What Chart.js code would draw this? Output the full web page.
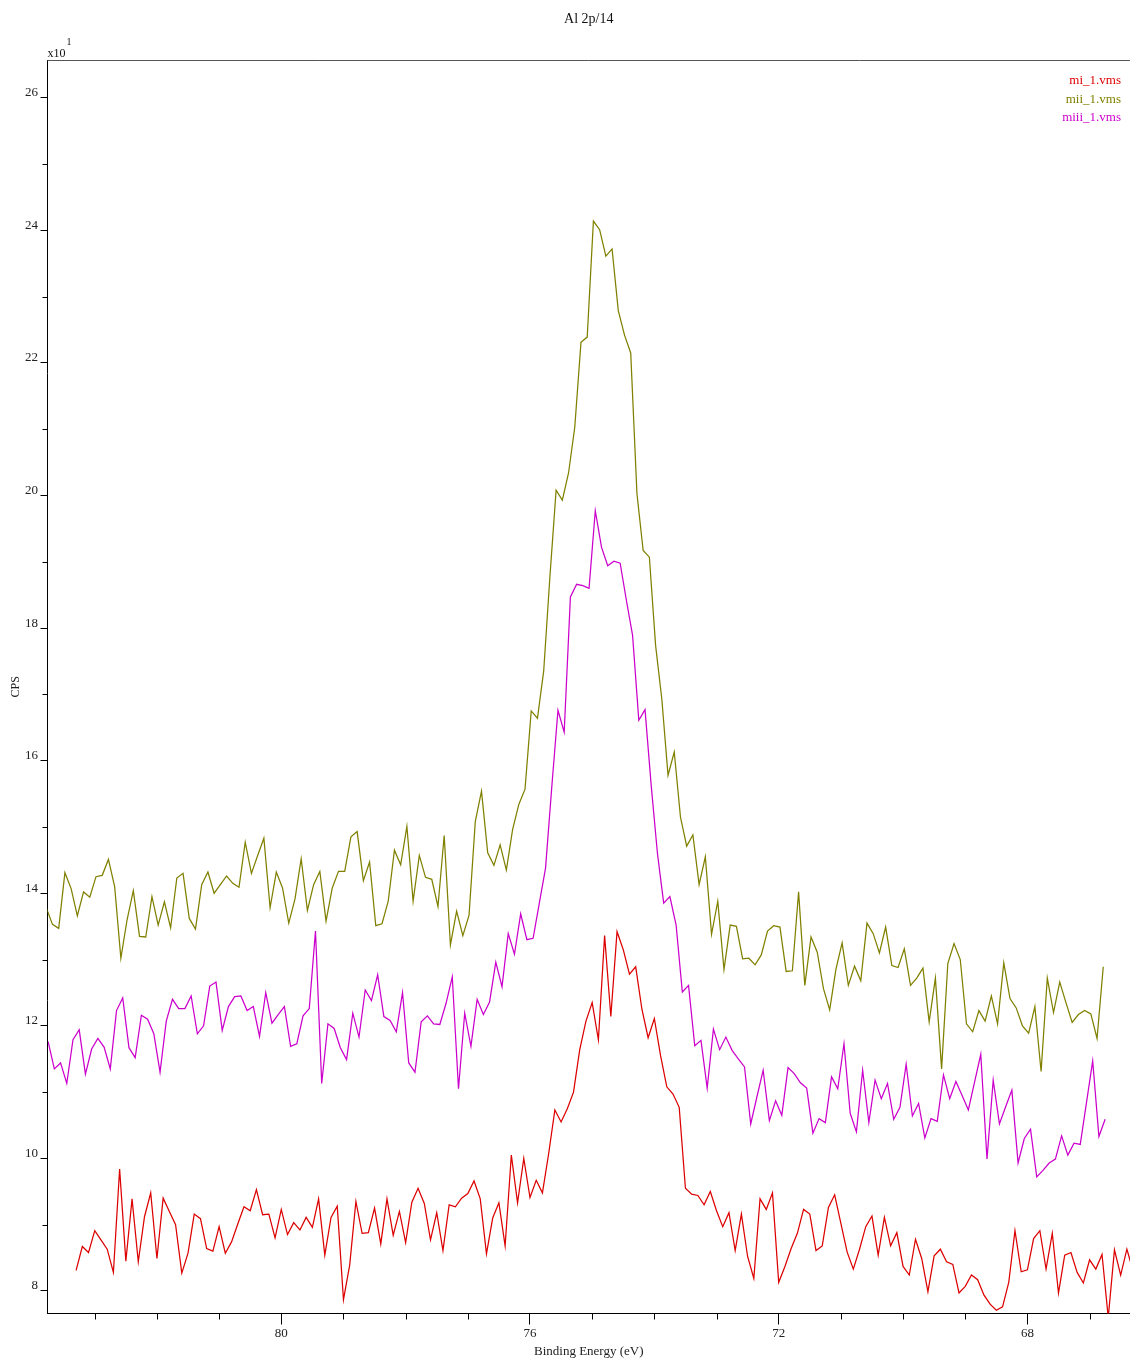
<!DOCTYPE html>
<html>
<head>
<meta charset="utf-8">
<script src="https://cdn.jsdelivr.net/npm/chart.js@4.4.1/dist/chart.umd.min.js"></script>
<style>
  html, body { margin: 0; padding: 0; background: #ffffff; }
  #wrap { width: 1130px; height: 1364px; }
</style>
</head>
<body>
<div id="wrap"><canvas id="c" width="1130" height="1364"></canvas></div>
<script>
// Al 2p region, three spectra (counts shown in units of x10^1 CPS)
const chartTitle = 'Al 2p/14';
const xAxisTitle = 'Binding Energy (eV)';
const yAxisTitle = 'CPS';
const yExponent = ['x10', '1'];

const seriesNames = ['mi_1.vms', 'mii_1.vms', 'miii_1.vms'];
const seriesColors = ['#dd0000', '#808000', '#cc00cc'];

const xTicks = [80, 76, 72, 68];
const xMinorTicks = [67, 69, 70, 71, 73, 74, 75, 77, 78, 79, 81, 82, 83];
const yTicks = [8, 10, 12, 14, 16, 18, 20, 22, 24, 26];
const yMinorTicks = [9, 11, 13, 15, 17, 19, 21, 23, 25];

// energy grid of each acquisition (eV): first point and step
const energyStep = 0.1;
const miStart = 83.30;
const miiStart = 83.78;
const miiiStart = 83.75;

const miCps = [
  8.31, 8.67, 8.58, 8.91, 8.77, 8.63, 8.28, 9.84, 8.45, 9.39, 8.44, 9.12, 9.48, 8.49,
  9.40, 9.20, 9.00, 8.27, 8.57, 9.16, 9.09, 8.64, 8.60, 8.97, 8.57, 8.74, 9.01, 9.27, 9.21, 9.53, 9.15, 9.16,
  8.80, 9.23, 8.85, 9.03, 8.92, 9.11, 8.96, 9.39, 8.54, 9.11, 9.28, 7.87, 8.39, 9.35, 8.87, 8.88, 9.25,
  8.71, 9.39, 8.84, 9.20, 8.73, 9.34, 9.55, 9.32, 8.77, 9.18, 8.61, 9.30, 9.27, 9.40, 9.47, 9.66, 9.39, 8.56,
  9.10, 9.33, 8.68, 10.05, 9.33, 10.00, 9.41, 9.67, 9.48, 10.07, 10.73, 10.55,
  10.75, 11.00, 11.64, 12.07, 12.35, 11.79, 13.36, 12.14, 13.42, 13.15, 12.78, 12.89, 12.25, 11.82, 12.11,
  11.55, 11.08, 10.97, 10.77, 9.55, 9.46, 9.44, 9.30, 9.50, 9.21, 8.97, 9.18, 8.61,
  9.16, 8.52, 8.19, 9.39, 9.23, 9.48, 8.13, 8.37, 8.64, 8.87, 9.23, 9.16, 8.61, 8.68, 9.26, 9.45, 9.02, 8.59,
  8.33, 8.63, 8.97, 9.13, 8.54, 9.11, 8.68, 8.88, 8.37, 8.24, 8.78, 8.49, 7.99, 8.53, 8.63, 8.44, 8.40, 7.97,
  8.07, 8.24, 8.17, 7.94, 7.80, 7.71, 7.76, 8.13, 8.91, 8.29, 8.32, 8.79, 8.91, 8.33, 8.87, 7.97, 8.54, 8.58,
  8.28, 8.12, 8.47, 8.33, 8.55, 7.60, 8.62, 8.24, 8.63, 8.30
];

const miiCps = [
  13.78,
  13.53, 13.47, 14.31, 14.07, 13.66, 14.02, 13.94, 14.25, 14.27, 14.51, 14.10, 13.02, 13.60, 14.04, 13.35, 13.34, 13.95, 13.52,
  13.87, 13.48, 14.23, 14.30, 13.62, 13.46, 14.13, 14.32, 14.00, 14.13, 14.26, 14.15, 14.09, 14.77, 14.30, 14.57, 14.83,
  13.78, 14.32, 14.08, 13.55, 13.91, 14.52, 13.74, 14.13, 14.33, 13.58, 14.08, 14.33, 14.33, 14.85, 14.93, 14.19, 14.47, 13.51,
  13.54, 13.88, 14.65, 14.43, 15.01, 13.88, 14.57, 14.24, 14.21, 13.80, 14.87, 13.22, 13.73, 13.36, 13.67, 15.08, 15.54, 14.61,
  14.42, 14.73, 14.35, 14.96, 15.34, 15.57, 16.75, 16.64, 17.35, 18.77, 20.08, 19.93,
  20.34, 21.03, 22.31, 22.39, 24.14, 24.01, 23.61, 23.72, 22.79, 22.42, 22.15, 20.03, 19.17, 19.07, 17.74,
  16.93, 15.78, 16.13, 15.15, 14.71, 14.88, 14.13, 14.55, 13.38, 13.88, 12.85, 13.52, 13.50,
  13.01, 13.02, 12.92, 13.07, 13.43, 13.51, 13.49, 12.82, 12.83, 14.02, 12.61, 13.34, 13.11, 12.56, 12.24, 12.85, 13.25, 12.61,
  12.90, 12.68, 13.55, 13.39, 13.10, 13.49, 12.91, 12.88, 13.16, 12.61, 12.72, 12.87, 12.06, 12.72, 11.35, 12.94, 13.24,
  13.00, 12.03, 11.91, 12.23, 12.07, 12.45, 12.03, 12.95, 12.41, 12.27, 12.00, 11.89, 12.29, 11.31, 12.72, 12.20,
  12.66, 12.35, 12.05, 12.17, 12.23, 12.18, 11.81, 12.89
];

const miiiCps = [
  11.76, 11.35, 11.44, 11.13, 11.79, 11.94, 11.27, 11.65, 11.81, 11.68, 11.35, 12.23, 12.42, 11.67, 11.52, 12.16, 12.10, 11.88,
  11.30, 12.07, 12.40, 12.26, 12.26, 12.45, 11.88, 12.00, 12.60, 12.66, 11.93, 12.29, 12.44, 12.45, 12.23, 12.29, 11.84, 12.50,
  12.04, 12.17, 12.29, 11.69, 11.73, 12.15, 12.26, 13.43, 11.13, 12.03, 11.96, 11.67, 11.49, 12.19, 11.83, 12.54, 12.38, 12.77,
  12.14, 12.08, 11.91, 12.50, 11.44, 11.30, 12.06, 12.15, 12.03, 12.02, 12.34, 12.74, 11.05, 12.19, 11.69, 12.40, 12.17,
  12.36, 12.96, 12.59, 13.39, 13.08, 13.69, 13.30, 13.32, 13.85, 14.38, 15.60, 16.76, 16.43,
  18.47, 18.66, 18.64, 18.60, 19.77, 19.22, 18.94, 19.01, 18.98, 18.42, 17.89, 16.61, 16.77, 15.62, 14.60,
  13.85, 13.95, 13.52, 12.51, 12.61, 11.70, 11.78, 11.06, 11.95, 11.64, 11.83, 11.63, 11.50,
  11.38, 10.52, 10.93, 11.33, 10.57, 10.87, 10.65, 11.37, 11.28, 11.14, 11.06, 10.38, 10.60, 10.54, 11.23, 11.05, 11.73,
  10.68, 10.40, 11.33, 10.54, 11.18, 10.90, 11.13, 10.59, 10.77, 11.42, 10.64, 10.83, 10.31, 10.60, 10.56, 11.26, 10.90, 11.16,
  10.95, 10.73, 11.15, 11.57, 9.99, 11.18, 10.52, 10.78, 11.03, 9.93, 10.30, 10.44, 9.72, 9.82, 9.93, 9.99,
  10.34, 10.05, 10.23, 10.21, 10.84, 11.47, 10.33, 10.59
];

// visible window of the plot
const xRange = [66.35, 83.76];
const yRange = [7.66, 26.57];

const serif = '"Liberation Serif", "DejaVu Serif", serif';

function toPoints(start, values) {
  return values.map((v, i) => ({ x: Math.round((start - i * energyStep) * 1000) / 1000, y: v }));
}

function lineSet(i, start, values) {
  return {
    label: seriesNames[i],
    data: toPoints(start, values),
    borderColor: seriesColors[i],
    borderWidth: 1.25,
    pointRadius: 0,
    pointHoverRadius: 0,
    tension: 0,
    fill: false
  };
}

// frame, minor ticks, title, exponent and the text legend
const decorations = {
  id: 'decorations',
  afterDraw(chart) {
    const { ctx, chartArea: a, scales: { x, y } } = chart;
    ctx.save();
    ctx.lineWidth = 1;
    ctx.strokeStyle = '#555555';
    ctx.beginPath();
    ctx.moveTo(a.left, a.top + 0.5);
    ctx.lineTo(a.right, a.top + 0.5);
    ctx.stroke();

    ctx.strokeStyle = '#000000';
    ctx.beginPath();
    xMinorTicks.forEach(v => {
      const px = Math.round(x.getPixelForValue(v)) + 0.5;
      ctx.moveTo(px, a.bottom);
      ctx.lineTo(px, a.bottom + 6);
    });
    yMinorTicks.forEach(v => {
      const py = Math.round(y.getPixelForValue(v)) + 0.5;
      ctx.moveTo(a.left, py);
      ctx.lineTo(a.left - 5, py);
    });
    ctx.stroke();

    ctx.fillStyle = '#111111';
    ctx.textBaseline = 'alphabetic';
    ctx.textAlign = 'center';
    ctx.font = '14px ' + serif;
    ctx.fillText(chartTitle, (a.left + a.right) / 2, 23);

    ctx.textAlign = 'left';
    ctx.font = '12px ' + serif;
    ctx.fillText(yExponent[0], a.left, 57);
    ctx.font = '10px ' + serif;
    ctx.fillText(yExponent[1], a.left + 19, 45);

    ctx.textAlign = 'right';
    ctx.font = '13px ' + serif;
    seriesNames.forEach((name, i) => {
      ctx.fillStyle = seriesColors[i];
      ctx.fillText(name, 1121, 84 + i * 18.5);
    });
    ctx.restore();
  }
};

new Chart(document.getElementById('c').getContext('2d'), {
  type: 'line',
  data: {
    datasets: [
      lineSet(0, miStart, miCps),
      lineSet(1, miiStart, miiCps),
      lineSet(2, miiiStart, miiiCps)
    ]
  },
  options: {
    responsive: false,
    animation: false,
    devicePixelRatio: 1,
    events: [],
    layout: { padding: { top: 60, right: 0, bottom: 0, left: 0 } },
    plugins: {
      legend: { display: false },
      title: { display: false },
      tooltip: { enabled: false }
    },
    scales: {
      x: {
        type: 'linear',
        reverse: true,
        min: xRange[0],
        max: xRange[1],
        afterBuildTicks: s => { s.ticks = xTicks.map(v => ({ value: v })); },
        afterFit: s => { s.height = 50.5; s.paddingLeft = 0; s.paddingRight = 0; },
        grid: { drawOnChartArea: false, drawTicks: true, tickLength: 11, color: '#000000', lineWidth: 1 },
        border: { display: true, color: '#000000', width: 1 },
        ticks: {
          color: '#222222', font: { family: serif, size: 13 }, padding: 1,
          maxRotation: 0, autoSkip: false
        },
        title: {
          display: true, text: xAxisTitle, color: '#222222',
          font: { family: serif, size: 13 }, padding: { top: 0, bottom: 5 }
        }
      },
      y: {
        type: 'linear',
        min: yRange[0],
        max: yRange[1],
        afterBuildTicks: s => { s.ticks = yTicks.map(v => ({ value: v })); },
        afterFit: s => { s.width = 47.5; s.paddingTop = 0; s.paddingBottom = 0; },
        grid: { drawOnChartArea: false, drawTicks: true, tickLength: 7, color: '#000000', lineWidth: 1 },
        border: { display: true, color: '#000000', width: 1 },
        ticks: {
          color: '#222222', font: { family: serif, size: 13 }, padding: 2.5,
          labelOffset: -5, autoSkip: false
        },
        title: {
          display: true, text: yAxisTitle, color: '#222222',
          font: { family: serif, size: 12 }, padding: { top: 9, bottom: 0 }
        }
      }
    }
  },
  plugins: [decorations]
});
</script>
</body>
</html>
